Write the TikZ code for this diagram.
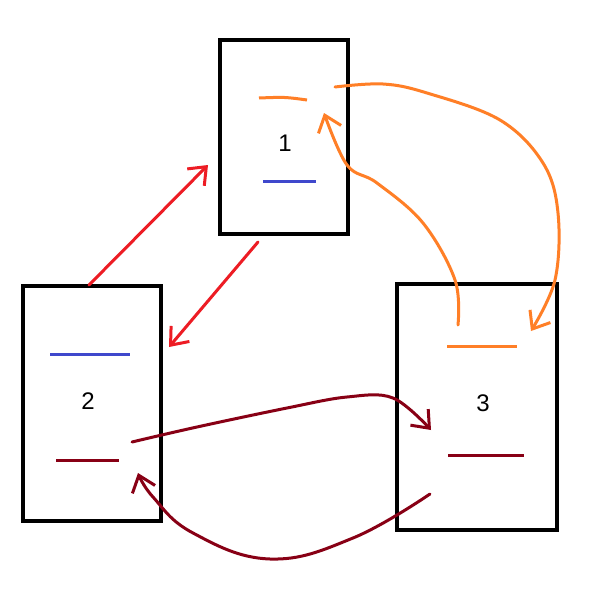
\documentclass[tikz,border=0pt]{standalone}
\usepackage{fontspec}
\setmainfont{Liberation Sans}
\usetikzlibrary{arrows.meta}
\definecolor{porange}{RGB}{255,127,39}
\definecolor{pred}{RGB}{237,28,36}
\definecolor{pblue}{RGB}{63,72,204}
\definecolor{pmaroon}{RGB}{136,0,21}
\tikzset{
  box/.style={draw=black, line width=3.2pt, rectangle, inner sep=0pt},
  num/.style={font=\fontsize{24}{28}\selectfont, inner sep=0pt},
  bar/.style={line width=3pt},
  conn/.style={line width=3pt, line cap=round, line join=round,
    -{Straight Barb[length=15pt, width=24pt, line width=3pt]}},
}
\begin{document}
\begin{tikzpicture}[x=1pt, y=-1pt]
\useasboundingbox[fill=white] (0,0) rectangle (592,594);
% boxes
\node[box, minimum width=128pt, minimum height=194pt] (b1) at (284,137) {};
\node[box, minimum width=138pt, minimum height=235pt] (b2) at (92,403.5) {};
\node[box, minimum width=160pt, minimum height=246pt] (b3) at (477,407) {};
% labels
\node[num] (l1) at (285,143) {1};
\node[num] (l2) at (88,401) {2};
\node[num] (l3) at (483,403) {3};
% inner bars
\draw[bar, porange] (259,98) .. controls (285,97) .. (307,100);
\draw[bar, pblue] (263,181) -- (316,181);
\draw[bar, pblue] (50,354) -- (130,354);
\draw[bar, pmaroon] (56,460) -- (119,460);
\draw[bar, porange] (447,346) -- (517,346);
\draw[bar, pmaroon] (448,455) -- (524,455);
% connector endpoints
\coordinate (r1s) at (89,285);
\coordinate (r1e) at (208,165);
\coordinate (r2s) at (258,242);
\coordinate (r2e) at (169,347);
\coordinate (o1s) at (335,87);
\coordinate (o1e) at (531,331);
\coordinate (o2s) at (458,325);
\coordinate (o2e) at (324,113);
\coordinate (m1s) at (132,442);
\coordinate (m1e) at (431,430);
\coordinate (m2s) at (430,494);
\coordinate (m2e) at (138,473);
% red
\draw[conn, pred] (r1s) -- (r1e);
\draw[conn, pred] (r2s) -- (r2e);
% orange
\draw[conn, porange] plot[smooth, tension=0.6] coordinates {(o1s) (383,84) (427,93) (500,120) (543,163) (558,213) (555,280) (o1e)};
\draw[conn, porange] plot[smooth, tension=0.6] coordinates {(o2s) (455,280) (423,223) (377,183) (347,165) (o2e)};
% maroon
\draw[conn, pmaroon] plot[smooth, tension=0.6] coordinates {(m1s) (197,427) (287,408) (347,397) (393,398) (m1e)};
\draw[conn, pmaroon] plot[smooth, tension=0.7] coordinates {(m2s) (353,538) (270,559) (193,533) (153,497) (m2e)};
\end{tikzpicture}
\end{document}
